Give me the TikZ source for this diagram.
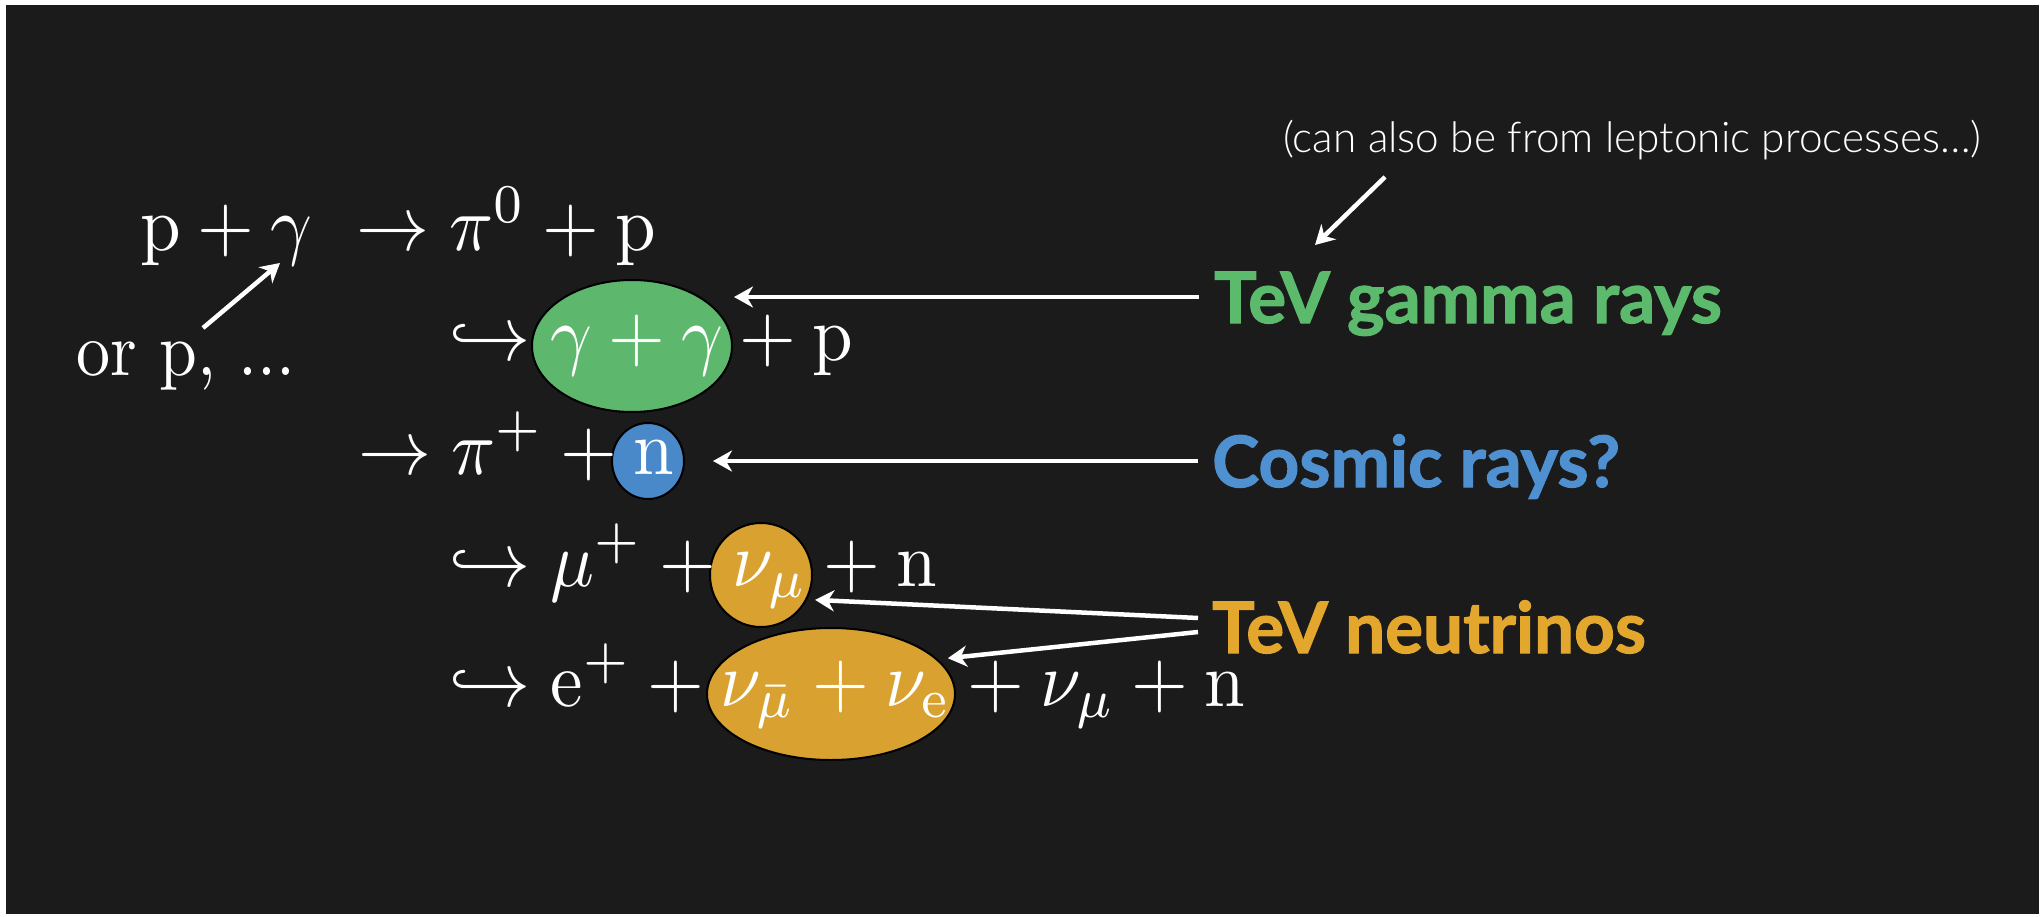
\documentclass[tikz,border=0pt]{standalone}
\usepackage{graphicx}
\usepackage{fontspec}
\usetikzlibrary{arrows.meta,shapes.geometric}
\newfontfamily\latofont{Lato}[BoldFeatures={FakeBold=1.6}]
\newfontfamily\latolight{Lato Light}
\newcommand\eqbig[1]{\scalebox{7.3}[7.8]{#1}}
\definecolor{bgdark}{HTML}{1B1B1B}
\definecolor{gammagreen}{HTML}{5DB86E}
\definecolor{crblue}{HTML}{4A89C9}
\definecolor{nuorange}{HTML}{D9A12F}
\definecolor{tagGreen}{HTML}{5CBA6C}
\definecolor{tagBlue}{HTML}{4F90D1}
\definecolor{tagOrange}{HTML}{E2A72C}
\begin{document}
\begin{tikzpicture}[x=1pt,y=-1pt,
  eq/.style={anchor=base west, inner sep=0pt, text=white, font=\fontsize{10}{12}\selectfont},
  blob/.style={ellipse, draw=black, line width=2pt, inner sep=0pt},
  tag/.style={anchor=base west, inner xsep=14pt, inner ysep=0pt, font=\fontsize{71}{80}\selectfont\latofont\bfseries},
  pointer/.style={draw=white, line width=4.5pt, -{Stealth[length=19pt,width=21pt,inset=6pt]}}
]
\useasboundingbox (0,0) rectangle (2044,917);
\fill[white] (0,0) rectangle (2044,917);
\fill[bgdark] (6,5) rectangle (2039,914);

% coloured blobs
\node[blob, fill=gammagreen, minimum width=200pt, minimum height=132pt] (gg) at (632,346) {};
\node[blob, fill=crblue, minimum width=72pt, minimum height=76pt] (nn) at (648,461) {};
\node[blob, fill=nuorange, minimum width=102pt, minimum height=104pt] (numu) at (761,575) {};
\node[blob, fill=nuorange, minimum width=248pt, minimum height=132pt] (nupair) at (831,694) {};

% equations
\node[eq] (r1a) at (140,251) {\eqbig{$\mathrm{p}+\gamma$}};
\node[eq] (r1b) at (356,251) {\eqbig{$\rightarrow\pi^0+\mathrm{p}$}};
\node[eq] (orp) at (76,375) {\scalebox{6.8}[7.6]{or p, ...}};
\node[eq] (r2) at (449,360) {\eqbig{$\hookrightarrow\gamma+\gamma+\mathrm{p}$}};
\node[eq] (r3) at (358,474) {\eqbig{$\rightarrow\pi^+ + \mathrm{n}$}};
\node[eq] (r4) at (449,586) {\eqbig{$\hookrightarrow\mu^+ + \nu_\mu + \mathrm{n}$}};
\node[eq] (r5) at (449,706) {\eqbig{$\hookrightarrow\mathrm{e}^+ + \nu_{\bar\mu} + \nu_{\mathrm{e}} + \nu_\mu + \mathrm{n}$}};

% labels
\node[tag, text=tagGreen] (tgr) at (1200,323) {TeV gamma rays};
\node[tag, text=tagBlue] (tcr) at (1198,487) {Cosmic rays?};
\node[tag, text=tagOrange] (tnu) at (1198,653) {TeV neutrinos};
\node[anchor=base west, inner sep=0pt, text=white, font=\fontsize{42.3}{47}\selectfont\latolight] (note) at (1283,153) {(can also be from leptonic processes…)};

% connectors
\draw[pointer] ([shift={(127,-47)}]orp.base west) -- ([shift={(140,12)}]r1a.base west);
\draw[pointer] ([shift={(102,24)}]note.base west) -- ([shift={(115,-78)}]tgr.base west);
\draw[pointer] ([shift={(-1,-26)}]tgr.base west) -- ([shift={(1,-49)}]gg.east);
\draw[pointer, shorten >=28pt] ([shift={(0,-26)}]tcr.base west) -- (nn.east);
\draw[pointer, shorten >=8pt] ([shift={(0,-35)}]tnu.base west) -- (numu.-28);
\draw[pointer, shorten >=10pt] ([shift={(0,-21)}]tnu.base west) -- (nupair.18);
\end{tikzpicture}
\end{document}
